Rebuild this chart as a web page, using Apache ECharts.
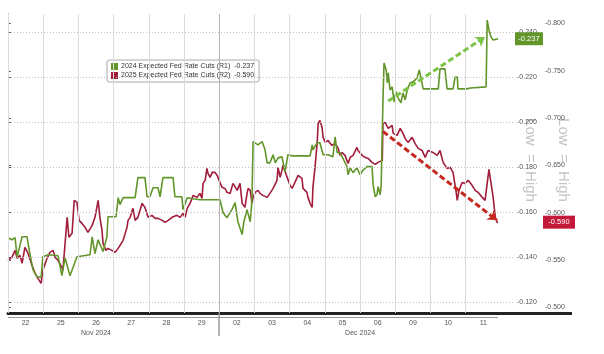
<!DOCTYPE html>
<html>
<head>
<meta charset="utf-8">
<script src="https://cdn.jsdelivr.net/npm/echarts@6/dist/echarts.min.js"></script>
<style>
  html, body { margin: 0; padding: 0; background: #fff; }
  #chart { width: 604px; height: 354px; }
</style>
</head>
<body>
<div id="chart"></div>
<script>
// x positions are in trading days since 22 Nov (0 = start of the 22nd)
const dayLabels = ['22', '25', '26', '27', '28', '29', '02', '03', '04', '05', '06', '09', '10', '11'];
const dayBreaks = [0, 1, 2, 3, 4, 5, 6, 7, 8, 9, 10, 11, 12, 13];
const monthBreak = 6;
const monthLabels = ['Nov 2024', 'Dec 2024'];
const monthLabelAt = [2.5, 10];
const xMax = 14.4;

const r1Ticks = [-0.24, -0.22, -0.20, -0.18, -0.16, -0.14, -0.12];
const r2Ticks = [-0.80, -0.75, -0.70, -0.65, -0.60, -0.55, -0.50];

const name2024 = '2024 Expected Fed Rate Cuts (R1)';
const name2025 = '2025 Expected Fed Rate Cuts (R2)';
const last2024 = -0.237;
const last2025 = -0.590;

// 2024 expected cuts (R1)
const cuts2024 = [
  [0.00, -0.1485], [0.11, -0.1476], [0.20, -0.1485], [0.26, -0.1400], [0.40, -0.1489], [0.54, -0.1489],
  [0.60, -0.1432], [0.71, -0.1343], [0.82, -0.1312], [0.94, -0.1308], [0.99, -0.1400], [1.14, -0.1409],
  [1.42, -0.1405], [1.53, -0.1316], [1.62, -0.1396], [1.76, -0.1316], [1.96, -0.1400], [2.33, -0.1409],
  [2.39, -0.1489], [2.47, -0.1414], [2.56, -0.1476], [2.70, -0.1423], [2.81, -0.1489], [2.84, -0.1578],
  [3.07, -0.1578], [3.13, -0.1663], [3.18, -0.1632], [3.27, -0.1663], [3.61, -0.1663], [3.69, -0.1752],
  [3.89, -0.1752], [3.95, -0.1667], [4.03, -0.1667], [4.12, -0.1707], [4.26, -0.1707], [4.32, -0.1667],
  [4.40, -0.1752], [4.69, -0.1752], [4.74, -0.1667], [4.94, -0.1667], [4.97, -0.1610], [5.09, -0.1663],
  [5.45, -0.1654], [6.02, -0.1654], [6.11, -0.1596], [6.22, -0.1574], [6.36, -0.1610], [6.45, -0.1641],
  [6.53, -0.1556], [6.65, -0.1499], [6.70, -0.1556], [6.79, -0.1610], [6.88, -0.1556], [6.93, -0.1654],
  [6.96, -0.1912], [7.10, -0.1898], [7.22, -0.1912], [7.30, -0.1876], [7.36, -0.1818], [7.44, -0.1818],
  [7.53, -0.1854], [7.59, -0.1818], [7.67, -0.1840], [7.78, -0.1845], [7.87, -0.1778], [7.95, -0.1854],
  [8.07, -0.1849], [8.58, -0.1849], [8.64, -0.1898], [8.66, -0.1876], [8.78, -0.1907], [8.86, -0.1907],
  [8.95, -0.1854], [9.09, -0.1854], [9.23, -0.1845], [9.29, -0.1934], [9.35, -0.1863], [9.43, -0.1863],
  [9.63, -0.1801], [9.66, -0.1765], [9.72, -0.1796], [9.80, -0.1774], [9.91, -0.1796], [10.00, -0.1765],
  [10.09, -0.1787], [10.20, -0.1801], [10.34, -0.1801], [10.37, -0.1721], [10.43, -0.1667], [10.48, -0.1676],
  [10.51, -0.1712], [10.57, -0.1676], [10.60, -0.1721], [10.65, -0.2098], [10.68, -0.2262], [10.74, -0.2231],
  [10.77, -0.2174], [10.80, -0.2218], [10.85, -0.2142], [10.91, -0.2156], [10.97, -0.2089], [11.02, -0.2134],
  [11.08, -0.2107], [11.16, -0.2085], [11.22, -0.2129], [11.28, -0.2098], [11.34, -0.2142], [11.42, -0.2174],
  [11.51, -0.2178], [11.62, -0.2196], [11.68, -0.2231], [11.73, -0.2196], [11.79, -0.2147], [12.22, -0.2147],
  [12.27, -0.2236], [12.41, -0.2236], [12.47, -0.2147], [12.64, -0.2147], [12.70, -0.2200], [12.76, -0.2200],
  [12.78, -0.2147], [13.04, -0.2147], [13.13, -0.2151], [13.58, -0.2156], [13.61, -0.2453], [13.66, -0.2409],
  [13.72, -0.2378], [13.78, -0.2364], [13.92, -0.2370]
];

// 2025 expected cuts (R2)
const cuts2025 = [
  [0.00, -0.5497], [0.11, -0.5528], [0.20, -0.5602], [0.26, -0.5518], [0.34, -0.5549], [0.40, -0.5465],
  [0.48, -0.5634], [0.57, -0.5570], [0.68, -0.5444], [0.77, -0.5359], [0.85, -0.5306], [0.94, -0.5254],
  [0.99, -0.5391], [1.11, -0.5518], [1.19, -0.5581], [1.28, -0.5602], [1.34, -0.5528], [1.42, -0.5497],
  [1.53, -0.5423], [1.56, -0.5391], [1.68, -0.5951], [1.73, -0.5740], [1.82, -0.5782], [1.88, -0.6130],
  [1.96, -0.6109], [2.02, -0.5919], [2.10, -0.5887], [2.19, -0.5845], [2.27, -0.5792], [2.39, -0.5866],
  [2.47, -0.5951], [2.56, -0.6130], [2.61, -0.5951], [2.67, -0.5813], [2.70, -0.5676], [2.78, -0.5602],
  [2.84, -0.5623], [2.95, -0.5602], [3.04, -0.5581], [3.13, -0.5623], [3.27, -0.5708], [3.38, -0.5845],
  [3.41, -0.5919], [3.47, -0.5951], [3.55, -0.6046], [3.61, -0.5919], [3.69, -0.5951], [3.81, -0.6099],
  [3.84, -0.6109], [3.89, -0.6056], [3.98, -0.5951], [4.09, -0.5972], [4.18, -0.5940], [4.26, -0.5940],
  [4.38, -0.5919], [4.46, -0.5898], [4.55, -0.5919], [4.66, -0.5951], [4.69, -0.5940], [4.80, -0.5972],
  [4.89, -0.5951], [4.97, -0.5993], [5.03, -0.5951], [5.09, -0.6046], [5.17, -0.6099], [5.26, -0.6183],
  [5.37, -0.6162], [5.45, -0.6204], [5.51, -0.6151], [5.54, -0.6310], [5.60, -0.6342], [5.65, -0.6468],
  [5.68, -0.6416], [5.74, -0.6373], [5.80, -0.6426], [5.88, -0.6426], [5.94, -0.6394], [6.02, -0.6320],
  [6.08, -0.6268], [6.16, -0.6257], [6.22, -0.6215], [6.31, -0.6204], [6.39, -0.6310], [6.51, -0.6236],
  [6.53, -0.6215], [6.59, -0.6310], [6.65, -0.6099], [6.73, -0.6056], [6.79, -0.6204], [6.82, -0.6257],
  [6.88, -0.6236], [6.93, -0.6099], [6.96, -0.6162], [7.02, -0.6215], [7.10, -0.6236], [7.16, -0.6204],
  [7.24, -0.6183], [7.36, -0.6162], [7.44, -0.6204], [7.53, -0.6257], [7.64, -0.6342], [7.67, -0.6479],
  [7.73, -0.6373], [7.78, -0.6447], [7.81, -0.6500], [7.93, -0.6373], [8.01, -0.6289], [8.07, -0.6257],
  [8.15, -0.6320], [8.24, -0.6394], [8.35, -0.6363], [8.38, -0.6257], [8.49, -0.6215], [8.52, -0.6162],
  [8.58, -0.6099], [8.64, -0.6056], [8.66, -0.6268], [8.72, -0.6479], [8.78, -0.6732], [8.81, -0.6944],
  [8.86, -0.6975], [8.92, -0.6901], [8.95, -0.6796], [9.01, -0.6743], [9.09, -0.6764], [9.20, -0.6711],
  [9.29, -0.6732], [9.38, -0.6680], [9.43, -0.6606], [9.49, -0.6637], [9.57, -0.6606], [9.66, -0.6521],
  [9.72, -0.6585], [9.80, -0.6606], [9.91, -0.6690], [9.94, -0.6658], [10.06, -0.6606], [10.14, -0.6585],
  [10.23, -0.6574], [10.34, -0.6532], [10.43, -0.6511], [10.51, -0.6532], [10.63, -0.6553], [10.65, -0.6944],
  [10.71, -0.6954], [10.80, -0.6891], [10.91, -0.6923], [10.94, -0.6838], [11.05, -0.6817], [11.14, -0.6891],
  [11.22, -0.6838], [11.28, -0.6785], [11.36, -0.6743], [11.48, -0.6796], [11.56, -0.6732], [11.65, -0.6680],
  [11.76, -0.6658], [11.85, -0.6585], [11.93, -0.6658], [12.07, -0.6637], [12.19, -0.6606], [12.27, -0.6658],
  [12.36, -0.6532], [12.41, -0.6553], [12.47, -0.6468], [12.56, -0.6479], [12.64, -0.6426], [12.73, -0.6215],
  [12.76, -0.6130], [12.81, -0.6236], [12.90, -0.6320], [12.98, -0.6310], [13.07, -0.6342], [13.18, -0.6289],
  [13.27, -0.6236], [13.35, -0.6215], [13.47, -0.6162], [13.55, -0.6130], [13.61, -0.6310], [13.66, -0.6458],
  [13.75, -0.6236], [13.78, -0.6162], [13.84, -0.5951], [13.89, -0.5898], [13.92, -0.5900]
];

// trend arrows drawn on the chart: [start, end] in data units
const arrow2024 = [[10.80, -0.2093], [13.55, -0.2378]];
const arrow2025 = [[10.65, -0.6859], [13.89, -0.5919]];

const green = '#62952a';
const red = '#a11d3b';
const font = 'Liberation Sans, Arial, sans-serif';

const chart = echarts.init(document.getElementById('chart'));

const gridLines = dayBreaks.map(d => ({
  xAxis: d,
  lineStyle: { color: d === monthBreak ? '#b4b4b4' : '#dcdcdc', type: 'solid', width: 1 }
})).concat(r1Ticks.map(v => ({
  yAxis: v,
  lineStyle: { color: '#c0c0c0', type: [1, 2], width: 1 }
})));

const fmt3 = v => v.toFixed(3);

chart.setOption({
  animation: false,
  backgroundColor: '#fff',
  textStyle: { fontFamily: font },
  grid: { left: 8, right: 89, top: 14, bottom: 41 },
  legend: {
    data: [name2024, name2025],
    left: 107, top: 60,
    orient: 'vertical',
    icon: 'rect',
    itemWidth: 7, itemHeight: 7, itemGap: 2,
    padding: [3, 5, 3, 4],
    backgroundColor: '#fff',
    borderColor: '#a8a8a8', borderWidth: 1, borderRadius: 2,
    textStyle: { fontSize: 7, color: '#333', padding: [0, 0, 0, -2] },
    formatter: name => name + '  ' + fmt3(name === name2024 ? last2024 : last2025)
  },
  xAxis: [{
    type: 'value', min: 0, max: xMax, position: 'bottom',
    axisLine: { show: true, onZero: false, lineStyle: { color: '#222', width: 3 } },
    axisTick: { show: false },
    splitLine: { show: false },
    axisLabel: {
      customValues: dayLabels.map((d, i) => i + 0.5),
      formatter: v => dayLabels[Math.floor(v)],
      fontSize: 7, color: '#555', margin: 7
    }
  }, {
    type: 'value', min: 0, max: xMax, position: 'bottom',
    axisLine: { show: false },
    axisTick: { show: true, customValues: [monthBreak], length: 23, lineStyle: { color: '#9a9a9a', width: 1.5 } },
    splitLine: { show: false },
    axisLabel: {
      customValues: monthLabelAt,
      formatter: v => monthLabels[monthLabelAt.indexOf(v)],
      fontSize: 7, color: '#555', margin: 17
    }
  }],
  yAxis: [{
    type: 'value', position: 'right', inverse: true,
    min: -0.248, max: -0.115,
    axisLine: { show: true, lineStyle: { color: '#9a9a9a' } },
    axisTick: { show: true, customValues: r1Ticks, length: 3, lineStyle: { color: '#666' } },
    splitLine: { show: false },
    axisLabel: { customValues: r1Ticks, formatter: fmt3, fontSize: 7, color: '#555', margin: 2 }
  }, {
    type: 'value', position: 'right', inverse: true, offset: 28,
    min: -0.81, max: -0.494,
    axisLine: { show: true, lineStyle: { color: '#9a9a9a' } },
    axisTick: { show: true, customValues: r2Ticks, length: 3, lineStyle: { color: '#666' } },
    splitLine: { show: false },
    axisLabel: { customValues: r2Ticks, formatter: fmt3, fontSize: 7, color: '#555', margin: 2 }
  }],
  series: [{
    name: 'grid', type: 'line', data: [], xAxisIndex: 0, yAxisIndex: 0, z: 1,
    markLine: { silent: true, symbol: 'none', label: { show: false }, data: gridLines }
  }, {
    name: name2024, type: 'line', xAxisIndex: 0, yAxisIndex: 0, z: 3,
    data: cuts2024, showSymbol: false, color: green,
    lineStyle: { color: green, width: 1.6 },
    markLine: {
      silent: true, symbol: 'none', symbolSize: 9, label: { show: false },
      lineStyle: { color: '#7cc447', type: [6, 3], width: 3 },
      data: [[{ coord: arrow2024[0], symbol: 'none' }, { coord: arrow2024[1], symbol: 'arrow' }]]
    },
    markPoint: {
      symbol: 'rect', symbolSize: [28, 13], symbolOffset: [14, 0],
      itemStyle: { color: green },
      label: { show: true, color: '#fff', fontSize: 7.5, formatter: p => fmt3(p.value) },
      data: [{ coord: [xMax, last2024], value: last2024 }]
    }
  }, {
    name: name2025, type: 'line', xAxisIndex: 0, yAxisIndex: 1, z: 2,
    data: cuts2025, showSymbol: false, color: red,
    lineStyle: { color: red, width: 1.6 },
    markLine: {
      silent: true, symbol: 'none', symbolSize: 9, label: { show: false },
      lineStyle: { color: '#c5281f', type: [6, 3], width: 3 },
      data: [[{ coord: arrow2025[0], symbol: 'none' }, { coord: arrow2025[1], symbol: 'arrow' }]]
    },
    markPoint: {
      symbol: 'rect', symbolSize: [32, 13], symbolOffset: [44, 0],
      itemStyle: { color: '#c41a3a' },
      label: { show: true, color: '#fff', fontSize: 7.5, formatter: p => fmt3(p.value) },
      data: [{ coord: [xMax, last2025], value: last2025 }]
    }
  }],
  graphic: [
    { type: 'text', x: 530, y: 160, rotation: -Math.PI / 2,
      style: { text: 'Low  =  High', fill: '#c4c4c4', font: '15px ' + font, align: 'center', verticalAlign: 'middle' } },
    { type: 'text', x: 563, y: 160, rotation: -Math.PI / 2,
      style: { text: 'Low  =  High', fill: '#c4c4c4', font: '15px ' + font, align: 'center', verticalAlign: 'middle' } },
    { type: 'line', shape: { x1: 515, y1: 313.5, x2: 572, y2: 313.5 }, style: { stroke: '#222', lineWidth: 3 } },
    { type: 'line', shape: { x1: 8, y1: 317.5, x2: 498, y2: 317.5 }, style: { stroke: '#999', lineWidth: 1 } }
  ]
});
</script>
</body>
</html>
